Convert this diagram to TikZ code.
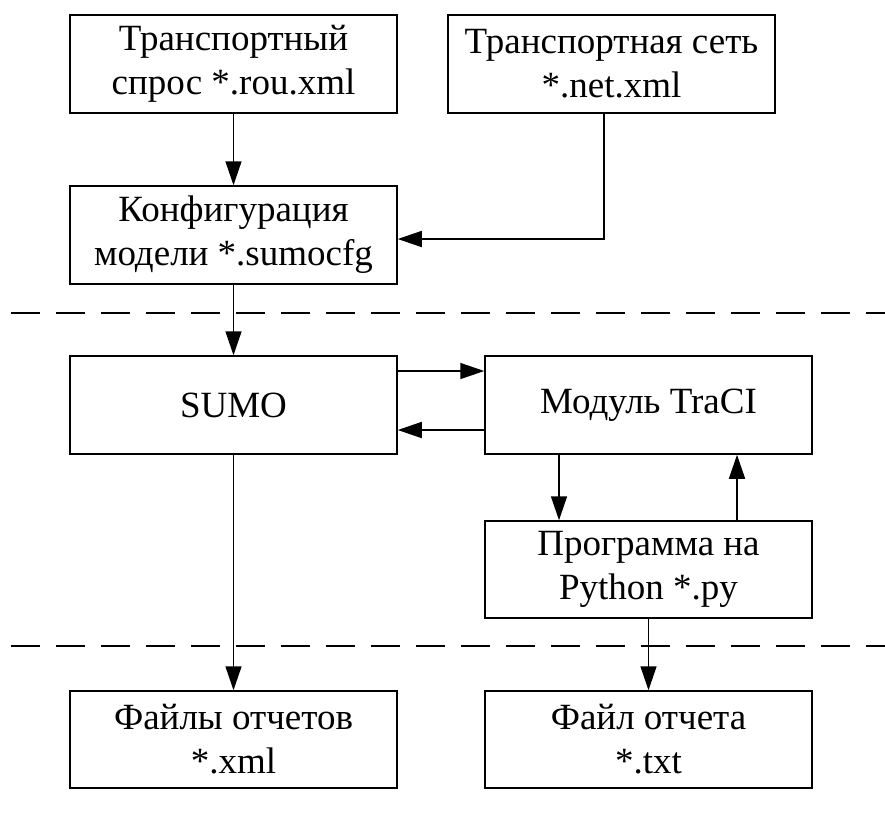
\documentclass[tikz,border=0pt]{standalone}
\usepackage{fontspec}
\setmainfont{Liberation Serif}
\usetikzlibrary{arrows.meta}
\tikzset{
  box/.style={draw, line width=1.5pt, minimum width=327pt, minimum height=98pt, inner sep=0pt, align=center, font=\fontsize{37}{44}\selectfont},
  arr/.style={line width=1.5pt, -{Triangle[length=24pt,width=16pt]}},
  sep/.style={line width=1.5pt, dash pattern=on 29pt off 16pt}
}
\begin{document}
\begin{tikzpicture}[x=1pt,y=-1pt]
\useasboundingbox (0,0) rectangle (885,823);
\node[box] (b1) at (233.5,64) {Транспортный\\спрос *.rou.xml};
\node[box] (b2) at (611.5,64) {Транспортная сеть\\*.net.xml};
\node[box] (b3) at (233.5,235) {Конфигурация\\модели *.sumocfg};
\node[box] (sumo) at (233.5,405) {SUMO};
\node[box] (traci) at (648.5,405) {Модуль TraCI};
\node[box, minimum height=97pt] (py) at (648.5,569.5) {Программа на\\Python *.py};
\node[box, minimum height=97pt] (rep) at (233.5,739.5) {Файлы отчетов\\*.xml};
\node[box, minimum height=97pt] (txt) at (648.5,739.5) {Файл отчета\\*.txt};
\coordinate (k) at (604,239);
\coordinate (u1) at (0,371);
\coordinate (u2) at (0,430);
\coordinate (d1) at (559,0);
\coordinate (d2) at (737,0);
\coordinate (l1a) at (11,313);
\coordinate (l1b) at (885,313);
\coordinate (l2a) at (11,646);
\coordinate (l2b) at (885,646);
\draw[sep] (l1a) -- (l1b);
\draw[sep] (l2a) -- (l2b);
\draw[arr] (b1.south) -- (b3.north);
\draw[arr] (b2.south -| k) |- (b3.east |- k);
\draw[arr] (b3.south) -- (sumo.north);
\draw[arr] (sumo.east |- u1) -- (traci.west |- u1);
\draw[arr] (traci.west |- u2) -- (sumo.east |- u2);
\draw[arr] (traci.south -| d1) -- (py.north -| d1);
\draw[arr] (py.north -| d2) -- (traci.south -| d2);
\draw[arr] (py.south) -- (txt.north);
\draw[arr] (sumo.south) -- (rep.north);
\end{tikzpicture}
\end{document}
